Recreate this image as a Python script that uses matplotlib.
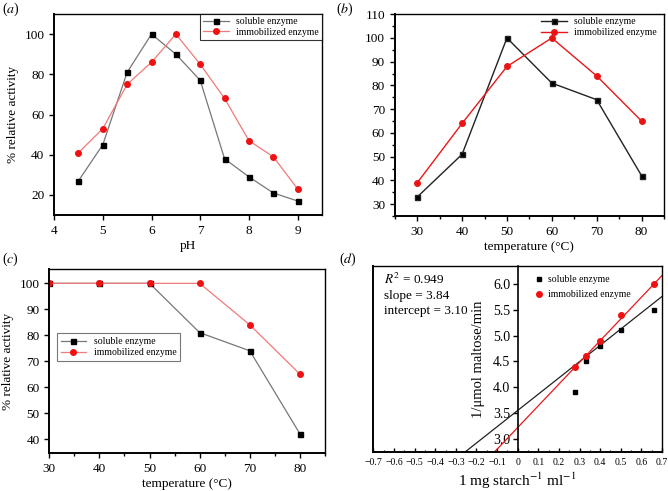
import numpy as np
import matplotlib
matplotlib.use("Agg")
import matplotlib.pyplot as plt
from matplotlib.ticker import MultipleLocator

plt.rcParams["font.family"] = ["Liberation Serif", "DejaVu Serif"]
plt.rcParams["mathtext.fontset"] = "stix"

# (a) pH profile
ph = [4.5, 5, 5.5, 6, 6.5, 7, 7.5, 8, 8.5, 9]
ph_soluble = [27, 45, 81, 100, 90, 77, 38, 29, 21, 17]
ph_immob = [41, 53, 75, 86, 100, 85, 68, 47, 39, 23]

# (b) temperature optimum
temp = [30, 40, 50, 60, 70, 80]
temp_soluble = [33, 51, 100, 81, 74, 42]
temp_immob = [39, 64, 88, 100, 84, 65]

# (c) thermal stability
stab_soluble = [100, 100, 100, 81, 74, 42]
stab_immob = [100, 100, 100, 100, 84, 65]

# (d) Lineweaver-Burk
inv_s = [0.28, 0.33, 0.40, 0.50, 0.66]
inv_v_soluble = [3.9, 4.5, 4.8, 5.1, 5.5]
inv_v_immob = [4.4, 4.6, 4.9, 5.4, 6.0]
line_soluble = (3.15, 3.55)   # slope, intercept as drawn
line_immob = (4.2, 3.22)

fig = plt.figure(figsize=(6.68, 4.91), dpi=100)

def frame(ax, lw=1.0):
    for s in ax.spines.values():
        s.set_linewidth(lw)
    ax.spines["bottom"].set_linewidth(1.4)
    ax.spines["left"].set_linewidth(1.4)
    ax.tick_params(direction="out", labelsize=9.5, width=1, length=3.5)
    ax.tick_params(which="minor", direction="out", width=1, length=2)

# panel a
ax = fig.add_axes([0.081, 0.562, 0.401, 0.4095])
ax.plot(ph, ph_soluble, "-s", color="#777777", mfc="k", mec="k", ms=3.6, lw=0.9,
        label="soluble enzyme")
ax.plot(ph, ph_immob, "-o", color="#f07a7a", mfc="#ee1111", mec="#ee1111", ms=4, lw=0.9,
        label="immobilized enzyme")
ax.set_xlim(4, 9.5)
ax.set_ylim(10, 110)
ax.set_yticks([20, 40, 60, 80, 100])
ax.set_xticks([4, 5, 6, 7, 8, 9])
ax.set_xlabel("pH", fontsize=9.5, labelpad=2)
ax.set_ylabel("% relative activity", fontsize=9.5)
frame(ax)
lg = ax.legend(loc="upper right", bbox_to_anchor=(1, 1), borderaxespad=0, fontsize=7,
               fancybox=False, edgecolor="k", handlelength=2.6, borderpad=0.3,
               labelspacing=0.2)
lg.get_frame().set_linewidth(0.8)
fig.text(0.003, 0.982, "($a$)", fontsize=10, va="center")

# panel b
ax = fig.add_axes([0.591, 0.560, 0.403, 0.411])
ax.plot(temp, temp_soluble, "-s", color="#222222", mfc="k", ms=3.6, lw=1.0,
        label="soluble enzyme")
ax.plot(temp, temp_immob, "-o", color="#e81818", mfc="#ee1111", ms=4, lw=1.0,
        label="immobilized enzyme")
ax.set_xlim(25, 85)
ax.set_ylim(25, 110)
ax.set_xticks(temp)
ax.set_yticks(range(30, 111, 10))
ax.xaxis.set_minor_locator(MultipleLocator(5))
ax.yaxis.set_minor_locator(MultipleLocator(5))
ax.set_xlabel("temperature (°C)", fontsize=9.5, labelpad=2)
frame(ax)
ax.legend(loc="upper right", bbox_to_anchor=(1.0, 1.02), frameon=False, fontsize=7,
          handlelength=2.6, borderpad=0.2, labelspacing=0.2)
fig.text(0.503, 0.982, "($b$)", fontsize=10, va="center")

# panel c
ax = fig.add_axes([0.0738, 0.0768, 0.4127, 0.3752])
ax.plot(temp, stab_soluble, "-s", color="#777777", mfc="k", mec="k", ms=3.6, lw=0.9,
        label="soluble enzyme")
ax.plot(temp, stab_immob, "-o", color="#f07a7a", mfc="#ee1111", mec="#ee1111", ms=4, lw=0.9,
        label="immobilized enzyme")
ax.set_xlim(30, 85)
ax.set_ylim(34.5, 105.5)
ax.set_xticks(temp)
ax.set_yticks(range(40, 101, 10))
ax.xaxis.set_minor_locator(MultipleLocator(5))
ax.set_xlabel("temperature (°C)", fontsize=9.5, labelpad=2)
ax.set_ylabel("% relative activity", fontsize=9.5)
frame(ax)
lg = ax.legend(loc="lower left", bbox_to_anchor=(0.027, 0.50), borderaxespad=0, fontsize=7,
               fancybox=False, edgecolor="#555555", handlelength=2.6, borderpad=0.4,
               labelspacing=0.2)
lg.get_frame().set_linewidth(0.8)
fig.text(0.003, 0.472, "($c$)", fontsize=10, va="center")

# panel d
ax = fig.add_axes([0.559, 0.0788, 0.432, 0.380])
xs = np.array([-0.7, 0.7])
ax.plot(xs, line_soluble[0] * xs + line_soluble[1], color="#222222", lw=0.9)
ax.plot(xs, line_immob[0] * xs + line_immob[1], color="#e81818", lw=0.9)
ax.plot(inv_s, inv_v_soluble, "s", color="k", ms=3.4, ls="none", label="soluble enzyme")
ax.plot(inv_s, inv_v_immob, "o", color="#ee1111", ms=4, ls="none",
        label="immobilized enzyme")
ax.set_xlim(-0.7, 0.7)
ax.set_ylim(2.74, 6.35)
ax.set_xticks(np.round(np.arange(-0.7, 0.71, 0.1), 1))
ax.set_xticklabels(["\u22120.7", "\u22120.6", "\u22120.5", "\u22120.4", "\u22120.3",
                    "\u22120.2", "\u22120.1", "0", "0.1", "0.2", "0.3", "0.4", "0.5",
                    "0.6", "0.7"])
ax.xaxis.set_minor_locator(MultipleLocator(0.05))
ax.set_yticks([3.0, 3.5, 4.0, 4.5, 5.0, 5.5, 6.0])
ax.set_yticklabels(["3.0", "3.5", "4.0", "4.5", "5.0", "5.5", "6.0"])
for s in ax.spines.values():
    s.set_linewidth(1.0)
ax.spines["bottom"].set_linewidth(1.4)
ax.tick_params(axis="x", direction="in", labelsize=7, length=3, width=1, pad=4)
ax.tick_params(axis="x", which="minor", direction="in", length=1.5, width=0.8)
ax.tick_params(axis="y", direction="out", labelsize=10, length=3.5, width=1, pad=2)
# y axis drawn through x = 0, left frame kept as a plain line
ax.spines["left"].set_position(("data", 0))
ax.spines["left"].set_linewidth(1.2)
ax.axvline(-0.7, color="k", lw=1.4, clip_on=False)
ax.set_xlabel("1 mg starch$^{-1}$ ml$^{-1}$", fontsize=11, labelpad=3)
ax.set_ylabel("1/\u03bcmol maltose/min", fontsize=10.5, labelpad=2)
ax.yaxis.set_label_coords(0.385, 0.5)
ax.legend(loc="upper left", bbox_to_anchor=(0.535, 0.985), frameon=False, fontsize=7,
          handlelength=1.0, handletextpad=0.4, borderpad=0.2, labelspacing=0.6)
ax.text(0.035, 0.965, "$R^2$ = 0.949\nslope = 3.84\nintercept = 3.10", transform=ax.transAxes,
        fontsize=9.5, va="top", ha="left", linespacing=1.3)
fig.text(0.508, 0.472, "($d$)", fontsize=10, va="center")

fig.savefig("out.png", dpi=100)
